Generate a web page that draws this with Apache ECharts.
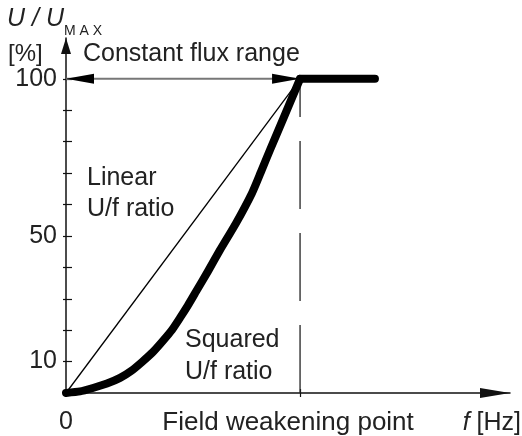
<!DOCTYPE html>
<html><head><meta charset="utf-8">
<script src="https://cdn.jsdelivr.net/npm/echarts@6/dist/echarts.min.js"></script>
<style>html,body{margin:0;padding:0;background:#fff}#c{width:522px;height:436px}</style>
</head><body><div id="c"></div>
<script>
// ---- data ----
const squaredX = [0, 6.0, 11.5, 17.5, 23.1, 27.8, 32.5, 37.2, 41.4, 45.3, 48.7, 52.1, 55.5, 60.7, 65.8, 72.6, 79.5, 83.3, 87.2, 93.6, 100];
const squaredY = [0, 0.5, 1.6, 3.0, 4.8, 7.0, 9.9, 13.1, 16.6, 20.1, 23.9, 27.9, 32.2, 38.8, 45.5, 54.0, 63.7, 70.4, 77.4, 88.7, 100];
const flatX = [100, 132];
const flatY = [100, 100];
const linearX = [0, 100];
const linearY = [0, 100];
const constFluxX = [0, 100];
const constFluxY = [100, 100];
const fieldWeakeningX = [100, 100];
const fieldWeakeningY = [0, 100];
const yTickValues = [10, 20, 30, 40, 50, 60, 70, 80, 90, 100];
const yLabelValues = [10, 50, 100];
const xTickValues = [100];
const xLabelValues = [0, 100];
const xLabelTexts = ['0', 'Field weakening point'];

const FONT = "'Liberation Sans', Arial, sans-serif";
const TXT = '#222';
const pairs = (xs, ys) => xs.map((x, i) => [x, ys[i]]);

const chart = echarts.init(document.getElementById('c'), null, {renderer: 'canvas'});
const gridLeft = 66, gridRight = 12, gridTop = 38, gridBottom = 43;
const gridW = 522 - gridLeft - gridRight, gridH = 436 - gridTop - gridBottom;

const option = {
  animation: false,
  grid: {left: gridLeft, right: gridRight, top: gridTop, bottom: gridBottom},
  xAxis: [
    {type: 'value', min: 0, max: 189.7, position: 'bottom',
     axisLine: {show: true, onZero: false, lineStyle: {color: '#111', width: 1.5},
       symbol: ['none', 'triangle'], symbolSize: [10, 30], symbolOffset: [0, -15]},
     axisTick: {show: true, customValues: xTickValues, length: 4, lineStyle: {color: '#111', width: 1.2}},
     axisLabel: {customValues: xLabelValues, margin: 17, fontSize: 25, fontFamily: FONT, color: TXT,
       formatter: v => { const i = xLabelValues.indexOf(v); return i === 1 ? '{fw|' + xLabelTexts[i] + '}' : xLabelTexts[i]; },
       rich: {fw: {padding: [0, 24, 0, 0], fontSize: 26, fontFamily: FONT, color: TXT}}},
     splitLine: {show: false}},
    {type: 'value', min: 0, max: 189.7, position: 'top', offset: -gridH,
     axisLine: {show: false, onZero: false},
     axisTick: {show: true, customValues: xTickValues, length: 4, lineStyle: {color: '#111', width: 1.2}},
     axisLabel: {show: false}, splitLine: {show: false}}
  ],
  yAxis: [
    {type: 'value', min: 0, max: 113, position: 'left',
     axisLine: {show: true, onZero: false, lineStyle: {color: '#111', width: 1.5},
       symbol: ['none', 'triangle'], symbolSize: [10, 16], symbolOffset: [0, -8]},
     axisTick: {show: true, customValues: yTickValues, length: 3, lineStyle: {color: '#111', width: 1.2}},
     axisLabel: {customValues: yLabelValues, margin: 9, fontSize: 25, fontFamily: FONT, color: TXT, padding: [6, 0, 0, 0]},
     splitLine: {show: false}},
    {type: 'value', min: 0, max: 113, position: 'right', offset: -gridW,
     axisLine: {show: false, onZero: false},
     axisTick: {show: true, customValues: yTickValues, length: 6, lineStyle: {color: '#111', width: 1.2}},
     axisLabel: {show: false}, splitLine: {show: false}}
  ],
  series: [
    {type: 'line', data: pairs(fieldWeakeningX, fieldWeakeningY), symbol: 'none', silent: true,
     lineStyle: {color: '#222', width: 1.3, type: [68, 24]}, z: 1},
    {type: 'line', data: pairs(constFluxX, constFluxY), symbol: 'none', silent: true,
     lineStyle: {color: '#777', width: 2}, z: 2,
     markPoint: {silent: true, label: {show: false}, itemStyle: {color: '#000'},
       data: [
         {coord: [constFluxX[0], constFluxY[0]], symbol: 'triangle', symbolSize: [10, 28], symbolRotate: 90, symbolOffset: [14, 0]},
         {coord: [constFluxX[1], constFluxY[1]], symbol: 'triangle', symbolSize: [10, 28], symbolRotate: -90, symbolOffset: [-14, 0]}
       ]}},
    {type: 'line', data: pairs(linearX, linearY), symbol: 'none', silent: true,
     lineStyle: {color: '#000', width: 1.3}, z: 3},
    {type: 'line', data: pairs(squaredX, squaredY), symbol: 'none', silent: true, smooth: 0.2,
     lineStyle: {color: '#000', width: 8, cap: 'round', join: 'round'}, z: 4},
    {type: 'line', data: pairs(flatX, flatY), symbol: 'none', silent: true,
     lineStyle: {color: '#000', width: 8, cap: 'round', join: 'round'}, z: 4}
  ],
  graphic: [
    {type: 'text', x: 7, y: 19, style: {text: 'U / U', font: 'italic 25px ' + FONT, fill: TXT, verticalAlign: 'middle'}},
    {type: 'text', x: 64, y: 31, style: {text: 'M A X', font: '14px ' + FONT, fill: TXT, verticalAlign: 'middle'}},
    {type: 'text', x: 8, y: 54, style: {text: '[%]', font: '24px ' + FONT, fill: TXT, verticalAlign: 'middle'}},
    {type: 'text', x: 83, y: 54, style: {text: 'Constant flux range', font: '25px ' + FONT, fill: TXT, verticalAlign: 'middle'}},
    {type: 'text', x: 87, y: 194, style: {text: 'Linear\nU/f ratio', font: '25px ' + FONT, lineHeight: 31, fill: TXT, verticalAlign: 'middle'}},
    {type: 'text', x: 185, y: 356, style: {text: 'Squared\nU/f ratio', font: '25px ' + FONT, lineHeight: 32, fill: TXT, verticalAlign: 'middle'}},
    {type: 'text', x: 521, y: 423, style: {text: '{i|f} [Hz]', font: '25px ' + FONT, fill: TXT, align: 'right', verticalAlign: 'middle',
      rich: {i: {font: 'italic 25px ' + FONT, fill: TXT}}}}
  ]
};
chart.setOption(option);
</script></body></html>
